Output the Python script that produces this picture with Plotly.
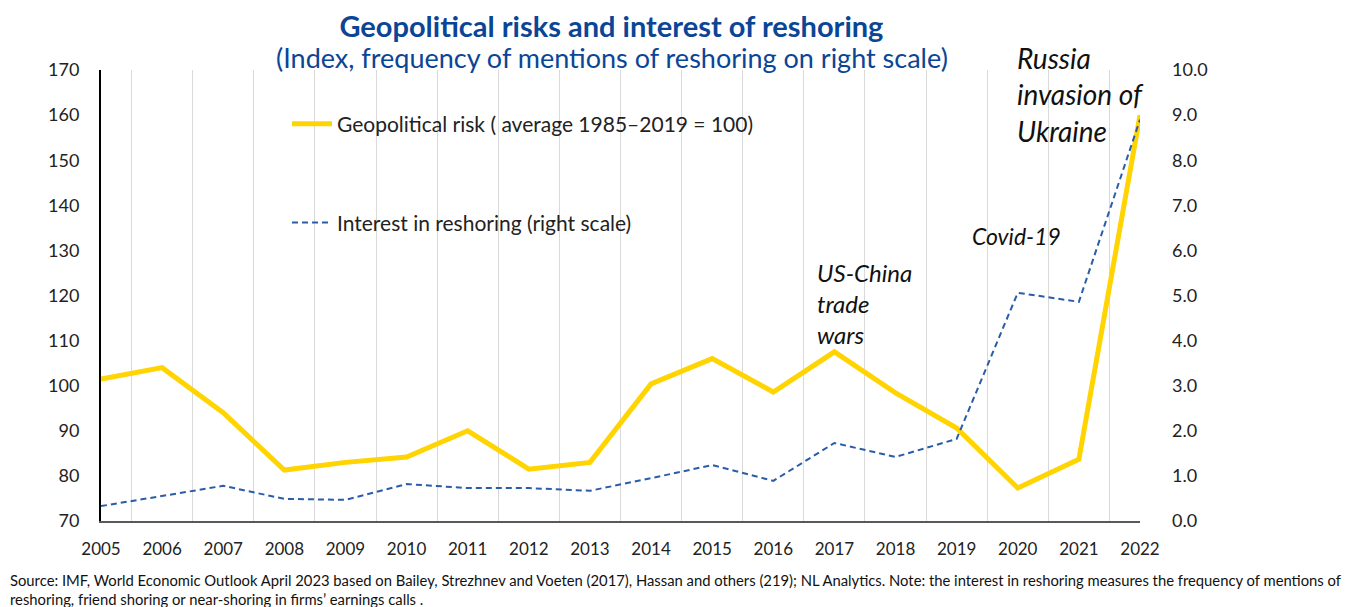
import plotly.graph_objects as go

# Data
years = [str(y) for y in range(2005, 2023)]
geo_risk = [101.5, 104.0, 94.0, 81.3, 83.0, 84.2, 90.0, 81.5, 83.0, 100.4,
            106.0, 98.6, 107.5, 98.4, 90.6, 77.3, 83.7, 160.0]
reshoring = [0.33, 0.55, 0.78, 0.49, 0.47, 0.82, 0.73, 0.73, 0.67, 0.95,
             1.24, 0.89, 1.73, 1.42, 1.82, 5.06, 4.86, 8.9]
left_ticks = list(range(70, 171, 10))
right_ticks = list(range(0, 11))

FONT = "Lato"
BLUE_TXT = "#0B4596"

fig = go.Figure()

fig.add_trace(go.Scatter(x=years, y=reshoring, name="Interest in reshoring (right scale)",
                         mode="lines", yaxis="y2", legend="legend2", showlegend=True,
                         line=dict(color="#2A5CA8", width=2, dash="6px,4px")))
fig.add_trace(go.Scatter(x=years, y=geo_risk, name="Geopolitical risk ( average 1985\u20132019 = 100)",
                         mode="lines", legend="legend", showlegend=True,
                         line=dict(color="#FFD400", width=5)))

# page body has an 8px margin, so the figure is 8px smaller than the window
fig.update_layout(
    width=1353, height=599,
    margin=dict(l=93, r=221, t=62, b=86),
    showlegend=True,
    plot_bgcolor="white", paper_bgcolor="white",
    font=dict(family=FONT, size=17, color="#222222"),
    title=dict(text="<b>Geopolitical risks and interest of reshoring</b>",
               x=0.446, xanchor="center", y=0.968, yanchor="middle",
               font=dict(size=29, color=BLUE_TXT, family=FONT)),
    xaxis=dict(type="category", tickson="boundaries", showgrid=True,
               gridcolor="#D9D9D9", gridwidth=1, ticks="",
               showline=True, linecolor="#595959", linewidth=2,
               ticklabelstandoff=12, tickfont=dict(size=17), zeroline=False),
    yaxis=dict(range=[70, 170], tickvals=left_ticks, showgrid=False,
               showline=True, linecolor="#000000", linewidth=2,
               ticks="", ticklabelstandoff=16, zeroline=False,
               tickfont=dict(size=18)),
    yaxis2=dict(range=[0, 10], tickvals=right_ticks, tickformat=".1f",
                overlaying="y", side="right", showgrid=False,
                showline=False, ticks="", ticklabelstandoff=31,
                zeroline=False, tickfont=dict(size=18)),
    legend=dict(x=0.179, y=0.88, xanchor="left", yanchor="middle", itemwidth=40,
                bgcolor="rgba(0,0,0,0)", font=dict(size=21, color="#222222")),
    legend2=dict(x=0.179, y=0.661, xanchor="left", yanchor="middle", itemwidth=40,
                 bgcolor="rgba(0,0,0,0)", font=dict(size=21, color="#222222")),
)

# subtitle
fig.add_annotation(text="(Index, frequency of mentions of reshoring on right scale)",
                   xref="paper", yref="paper", x=0.492, y=1.027,
                   xanchor="center", yanchor="middle", showarrow=False,
                   font=dict(size=27, color=BLUE_TXT))

# event labels
events = [
    ("Russia<br>invasion of<br>Ukraine", 0.88, 0.945, 28),
    ("Covid-19", 0.836, 0.632, 23),
    ("US-China<br>trade<br>wars", 0.687, 0.483, 24),
]
for txt, ex, ey, fs in events:
    fig.add_annotation(text="<i>" + txt + "</i>", xref="paper", yref="paper",
                       x=ex, y=ey, xanchor="left", yanchor="middle",
                       align="left", showarrow=False,
                       font=dict(size=fs, color="#111111"))

# source note
fig.add_annotation(
    text="Source: IMF, World Economic Outlook April 2023 based on Bailey, Strezhnev and Voeten (2017), "
         "Hassan and others (219); NL Analytics. Note: the interest in reshoring measures the frequency of mentions of"
         "<br>reshoring, friend shoring or near-shoring in firms\u2019 earnings calls .",
    xref="paper", yref="paper", x=-0.0895, y=-0.151, xanchor="left", yanchor="middle",
    align="left", showarrow=False, font=dict(size=14.8, color="#111111"))

fig.write_html("out.html")
